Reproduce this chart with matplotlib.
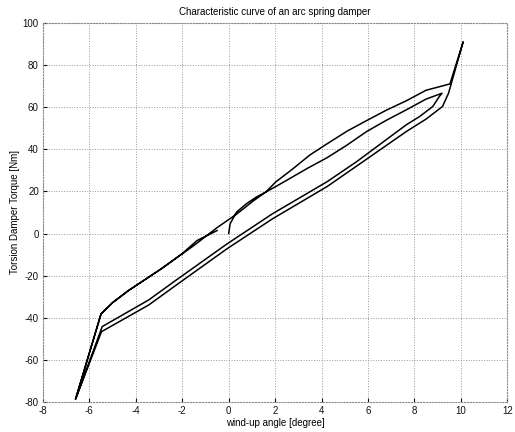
import numpy as np
import matplotlib
matplotlib.use("Agg")
import matplotlib.pyplot as plt

plt.rcParams['font.family'] = ['Liberation Sans', 'DejaVu Sans']
plt.rcParams['axes.unicode_minus'] = False

# --- data (wind-up angle [deg], torque [Nm]) ---
init_x = [0.0, 0.06, 0.34, 0.76, 1.19, 1.6]
init_y = [0.0, 4.6, 10.2, 14.1, 17.3, 19.7]

upper_inner_x = [1.6, 2.03, 2.74, 3.4, 4.24, 5.1, 5.94, 6.8, 7.65, 8.5, 9.19]
upper_inner_y = [19.7, 22.3, 26.8, 31.0, 36.0, 42.0, 48.4, 53.8, 58.7, 63.8, 66.6]

lower_inner_x = [9.19, 9.07, 8.79, 8.22, 7.65, 5.51, 4.24, 1.89, -0.08, -2.3, -3.44, -5.45]
lower_inner_y = [66.6, 65.0, 60.3, 55.5, 51.6, 34.1, 24.6, 9.4, -5.0, -22.4, -31.5, -44.2]

steep_low_x = [-5.45, -6.6, -5.5]
steep_low_y = [-44.2, -78.7, -38.2]

upper_left_x = [-5.5, -5.0, -4.32, -2.91, -1.5, -0.5, 0.34, 1.05, 1.6]
upper_left_y = [-38.2, -32.8, -27.1, -16.8, -5.7, 2.8, 9.2, 15.4, 19.7]

upper_outer_x = [1.6, 2.03, 2.74, 3.5, 4.24, 5.1, 5.94, 6.8, 7.65, 8.5, 9.53, 10.1]
upper_outer_y = [19.7, 24.5, 30.5, 37.3, 42.6, 48.6, 53.6, 58.6, 63.0, 68.0, 71.0, 91.0]

lower_outer_x = [10.1, 9.47, 9.21, 8.5, 7.65, 5.51, 4.24, 1.89, -0.08, -2.3, -3.44, -5.48]
lower_outer_y = [91.0, 66.6, 60.3, 54.3, 48.4, 32.0, 22.3, 7.0, -7.3, -24.8, -33.9, -46.6]

steep_low2_x = [-5.48, -6.6, -5.5]
steep_low2_y = [-46.6, -78.7, -38.2]

tail_x = [-5.5, -5.0, -4.32, -2.91, -2.0, -1.36, -0.5]
tail_y = [-38.2, -32.8, -27.1, -16.8, -9.5, -3.3, 1.4]

xticks = [-8, -6, -4, -2, 0, 2, 4, 6, 8, 10, 12]
yticks = [-80, -60, -40, -20, 0, 20, 40, 60, 80, 100]

path_x = np.concatenate([init_x, upper_inner_x, lower_inner_x, steep_low_x,
                         upper_left_x, upper_outer_x, lower_outer_x,
                         steep_low2_x, tail_x])
path_y = np.concatenate([init_y, upper_inner_y, lower_inner_y, steep_low_y,
                         upper_left_y, upper_outer_y, lower_outer_y,
                         steep_low2_y, tail_y])

fig = plt.figure(figsize=(5.15, 4.32), dpi=100)
ax = fig.add_axes([0.0835, 0.0694, 0.9015, 0.8777])
ax.plot(path_x, path_y, color='black', linewidth=1.1)

ax.set_xlim(-8, 12)
ax.set_ylim(-80, 100)
ax.set_xticks(xticks)
ax.set_yticks(yticks)
ax.tick_params(direction='in', length=3, labelsize=7, pad=3, colors='#111111')
ax.grid(True, linestyle=':', color='#9a9a9a', linewidth=0.7)
for s in ax.spines.values():
    s.set_color('#8a8a8a')
    s.set_linestyle(':')
    s.set_linewidth(0.8)

ax.set_title('Characteristic curve of an arc spring damper', fontsize=7, pad=6)
ax.set_xlabel('wind-up angle [degree]', fontsize=7, labelpad=1)
ax.set_ylabel('Torsion Damper Torque [Nm]', fontsize=7, labelpad=2)

fig.savefig('out.png', dpi=100)
